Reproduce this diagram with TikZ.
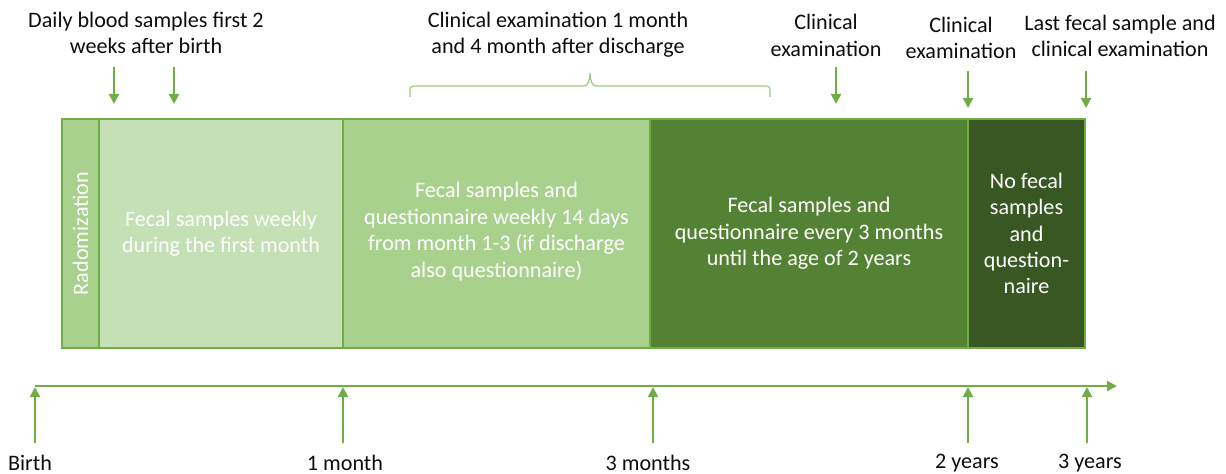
\documentclass[tikz,border=0pt]{standalone}
\usepackage{fontspec}
\setmainfont{Carlito}
\usetikzlibrary{arrows.meta,fit}
\definecolor{gborder}{HTML}{70AD47}
\definecolor{gbrace}{HTML}{9CCB7C}
\definecolor{cA}{HTML}{A9D18E}
\definecolor{cB}{HTML}{C5E0B4}
\definecolor{cC}{HTML}{A9D18E}
\definecolor{cD}{HTML}{548235}
\definecolor{cE}{HTML}{385723}
\definecolor{txt}{HTML}{0D0D0D}
\begin{document}
\begin{tikzpicture}[x=0.75pt,y=-0.75pt,
  lbl/.style={font=\fontsize{16.6pt}{19.8pt}\selectfont, text=txt, align=center, inner sep=0pt},
  phase/.style={draw=gborder, line width=1.1pt, inner sep=0pt, outer sep=0pt},
  phasetxt/.style={font=\fontsize{16.6pt}{19.8pt}\selectfont, text=white, align=center, inner sep=0pt},
  garrow/.style={draw=gborder, line width=1.5pt, -{Triangle[length=7.5pt,width=7.5pt]}},
  bracestyle/.style={draw=gbrace, line width=0.9pt}]
\useasboundingbox (0,0) rectangle (1226,474);

% phase boxes
\node[phase, fill=cA, fit={(62,119) (99,348)}] (rad) {};
\node[phase, fill=cB, fit={(99,119) (343,348)}] (b1) {};
\node[phase, fill=cC, fit={(343,119) (650,348)}] (b2) {};
\node[phase, fill=cD, fit={(650,119) (968,348)}] (b3) {};
\node[phase, fill=cE, fit={(968,119) (1085,348)}] (b4) {};

\node[phasetxt, rotate=90] (radlbl) at (rad.center) {Radomization};
\node[phasetxt] (b1t) at (b1.center) {Fecal samples weekly\\during the first month};
\node[phasetxt] (b2t) at ([yshift=1.5pt]b2.center) {Fecal samples and\\questionnaire weekly 14 days\\from month 1-3 (if discharge\\also questionnaire)};
\node[phasetxt] (b3t) at (b3.center) {Fecal samples and\\questionnaire every 3 months\\until the age of 2 years};
\node[phasetxt] (b4t) at (b4.center) {No fecal\\samples\\and\\question-\\naire};

% top labels
\node[lbl] (tdaily) at (146,33) {Daily blood samples first 2\\weeks after birth};
\node[lbl] (tclin1) at (558,35) {Clinical examination 1 month\\and 4 month after discharge};
\node[lbl] (tclin2) at (826,35.5) {Clinical\\examination};
\node[lbl] (tclin3) at (961,38) {Clinical\\examination};
\node[lbl] (tlast) at (1120,36) {Last fecal sample and\\clinical examination};

% top arrows
\coordinate (da1s) at (114,67); \coordinate (da1e) at (114,104);
\coordinate (da2s) at (174,67); \coordinate (da2e) at (174,104);
\coordinate (ca1s) at (836,67); \coordinate (ca1e) at (836,104);
\coordinate (ca2s) at (968,71); \coordinate (ca2e) at (968,108);
\coordinate (ca3s) at (1086,71); \coordinate (ca3e) at (1086,108);
\draw[garrow] (da1s) -- (da1e);
\draw[garrow] (da2s) -- (da2e);
\draw[garrow] (ca1s) -- (ca1e);
\draw[garrow] (ca2s) -- (ca2e);
\draw[garrow] (ca3s) -- (ca3e);

% brace
\coordinate (brL) at (410,97);
\coordinate (brT) at (590,73);
\coordinate (brR) at (770,97);
\draw[bracestyle] (brL) -- (410,91) .. controls (410,87) and (411,86) .. (415,86)
  -- (584,86) .. controls (588,86) and (590,80) .. (brT)
  .. controls (590,80) and (592,86) .. (596,86) -- (765,86)
  .. controls (769,86) and (770,87) .. (770,91) -- (brR);

% timeline
\coordinate (tl0) at (35,386);
\coordinate (tlE) at (1117,386);
\draw[garrow] (tl0) -- (tlE);

\node[lbl] (lbirth) at (30,463) {Birth};
\node[lbl] (lm1) at (345,463) {1 month};
\node[lbl] (lm3) at (648,463) {3 months};
\node[lbl] (ly2) at (967,463) {2 years};
\node[lbl] (ly3) at (1090,463) {3 years};

\coordinate (u0) at (35,443);   \coordinate (u0e) at (35,387);
\coordinate (u1) at (343,443);  \coordinate (u1e) at (343,387);
\coordinate (u2) at (653,443);  \coordinate (u2e) at (653,387);
\coordinate (u3) at (968,443);  \coordinate (u3e) at (968,387);
\coordinate (u4) at (1087,443); \coordinate (u4e) at (1087,387);
\draw[garrow] (u0) -- (u0e);
\draw[garrow] (u1) -- (u1e);
\draw[garrow] (u2) -- (u2e);
\draw[garrow] (u3) -- (u3e);
\draw[garrow] (u4) -- (u4e);
\end{tikzpicture}
\end{document}
